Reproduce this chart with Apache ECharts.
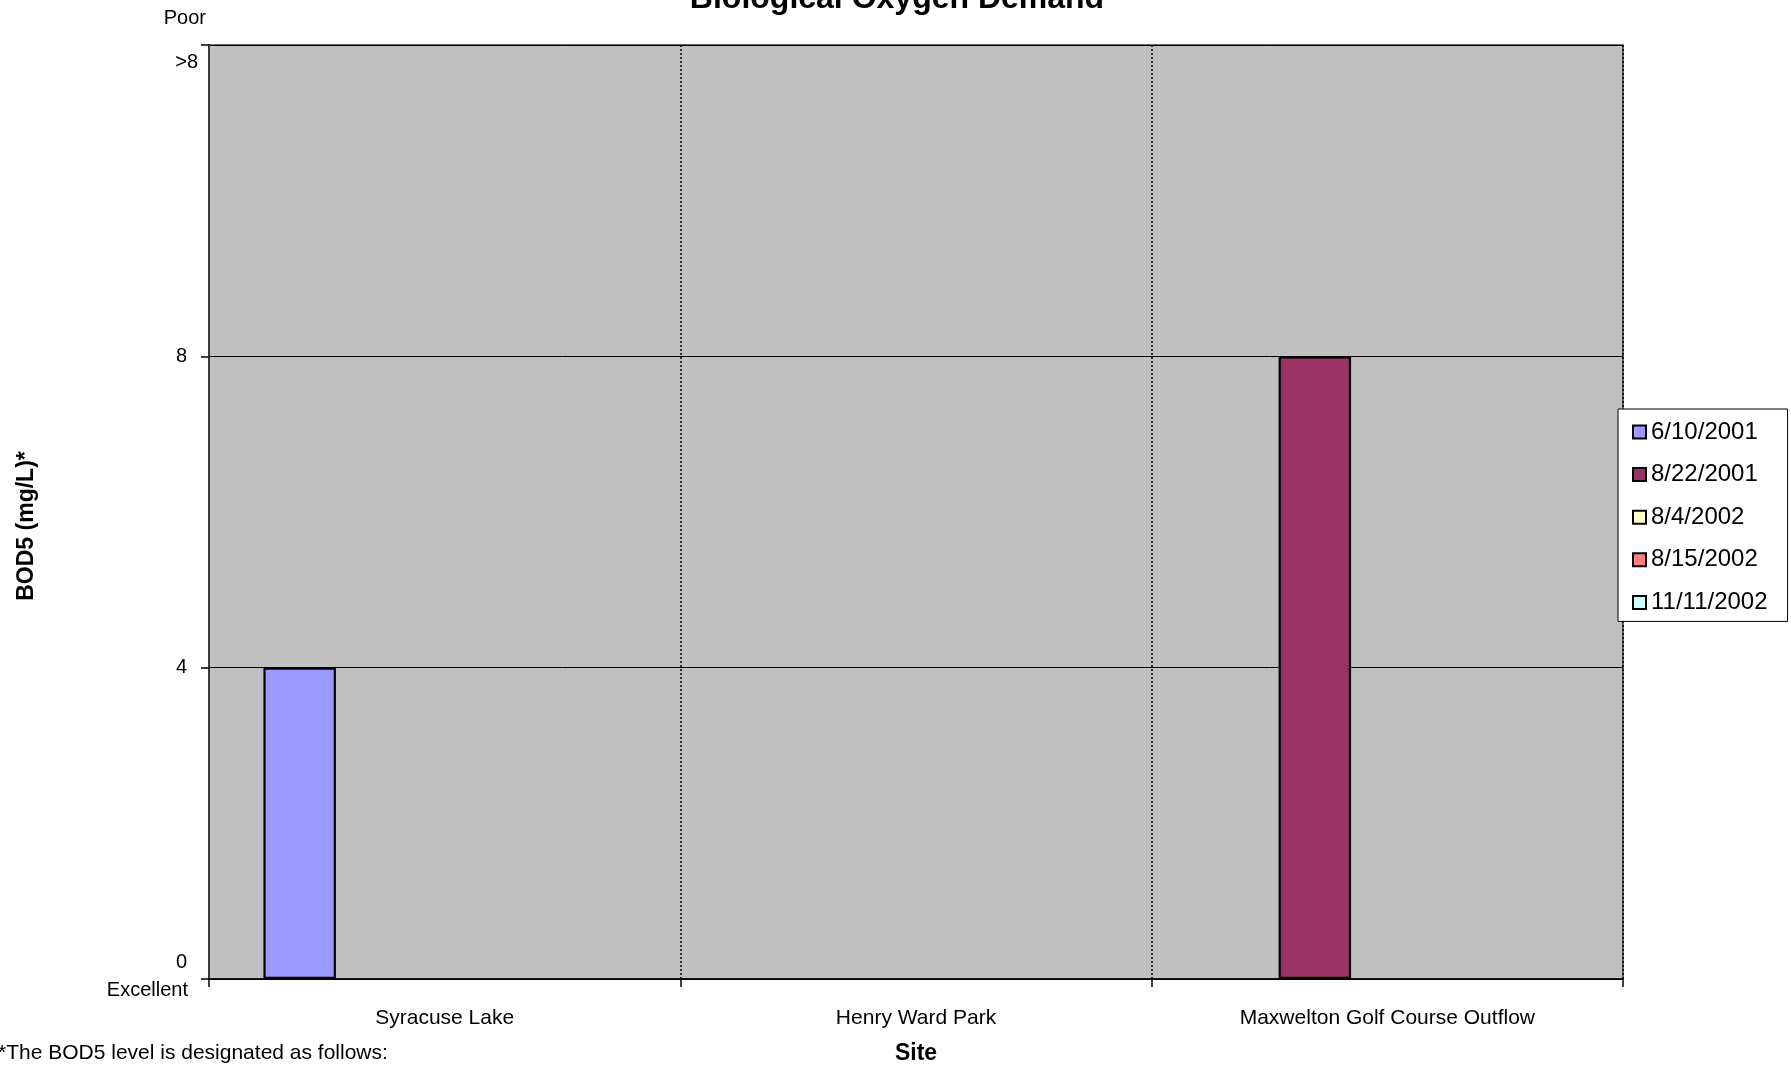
<!DOCTYPE html>
<html>
<head>
<meta charset="utf-8">
<script src="https://cdn.jsdelivr.net/npm/echarts@6/dist/echarts.min.js"></script>
<style>
html,body{margin:0;padding:0;background:#fff;}
#chart{width:1791px;height:1066px;}
</style>
</head>
<body>
<div id="chart"></div>
<script>
// ---- data ----
const categories = ['Syracuse Lake', 'Henry Ward Park', 'Maxwelton Golf Course Outflow'];
const seriesNames = ['6/10/2001', '8/22/2001', '8/4/2002', '8/15/2002', '11/11/2002'];
const values_6_10_2001 = [4, null, null];
const values_8_22_2001 = [null, null, 8];
const values_8_4_2002 = [null, null, null];
const values_8_15_2002 = [null, null, null];
const values_11_11_2002 = [null, null, null];
const yTickValues = [0, 4, 8, 12];
const yTickLabels = ['0', '4', '8', '>8'];
const yTopCaption = 'Poor';
const yBottomCaption = 'Excellent';
const titleText = 'Biological Oxygen Demand';
const yAxisTitle = 'BOD5 (mg/L)*';
const xAxisTitle = 'Site';
const footnote = '*The BOD5 level is designated as follows:';

// ---- styles ----
const seriesColors = ['#9999FF', '#993366', '#FFFFCC', '#FF8080', '#CCFFFF'];
const allValues = [values_6_10_2001, values_8_22_2001, values_8_4_2002, values_8_15_2002, values_11_11_2002];

const FONT = 'Liberation Sans, Arial, sans-serif';

const chart = echarts.init(document.getElementById('chart'), null, {renderer: 'canvas'});

const series = seriesNames.map((name, i) => ({
  name: name,
  type: 'bar',
  data: allValues[i],
  barGap: '0%',
  barCategoryGap: '23.1%',
  itemStyle: {color: seriesColors[i], borderColor: '#000', borderWidth: 2.2},
  emphasis: {disabled: true}
}));

chart.setOption({
  animation: false,
  backgroundColor: '#ffffff',
  textStyle: {fontFamily: FONT},
  title: {
    text: titleText,
    left: 892,
    textAlign: 'center',
    top: -22,
    textStyle: {fontFamily: FONT, fontSize: 32, fontWeight: 'bold', color: '#000', lineHeight: 32}
  },
  grid: {
    left: 209, top: 45, right: 168, bottom: 87,
    containLabel: false,
    outerBoundsMode: 'none',
    show: true, backgroundColor: '#C0C0C0', borderColor: '#3a3a3a', borderWidth: 1.5
  },
  legend: {
    orient: 'vertical',
    left: 1618, top: 409,
    padding: [11, 20, 7, 14],
    backgroundColor: '#ffffff',
    borderColor: '#000',
    borderWidth: 1,
    borderRadius: 0,
    itemWidth: 13, itemHeight: 13,
    itemGap: 18.6,
    icon: 'rect',
    itemStyle: {borderColor: '#000', borderWidth: 2},
    textStyle: {fontFamily: FONT, fontSize: 24, color: '#000', lineHeight: 24},
    selectedMode: false,
    data: seriesNames
  },
  xAxis: {
    type: 'category',
    data: categories,
    boundaryGap: true,
    name: xAxisTitle,
    nameLocation: 'middle',
    nameGap: 63,
    nameTextStyle: {fontFamily: FONT, fontSize: 23, fontWeight: 'bold', color: '#000'},
    axisLine: {show: true, lineStyle: {color: '#000', width: 1.5}},
    axisTick: {show: true, length: 8, alignWithLabel: false, lineStyle: {color: '#000', width: 1.5}},
    axisLabel: {fontFamily: FONT, fontSize: 21, color: '#000', margin: 29, interval: 0},
    splitLine: {show: true, lineStyle: {color: '#000', width: 1.5, type: [2, 2]}}
  },
  yAxis: {
    type: 'value',
    min: 0, max: 12, interval: 4,
    name: yAxisTitle,
    nameLocation: 'middle',
    nameRotate: 90,
    nameGap: 171,
    nameTextStyle: {fontFamily: FONT, fontSize: 23, fontWeight: 'bold', color: '#000', padding: [0, 28, 0, 0]},
    axisLine: {show: true, lineStyle: {color: '#3a3a3a', width: 2}},
    axisTick: {show: true, length: 8, lineStyle: {color: '#000', width: 1.5}},
    splitLine: {show: true, lineStyle: {color: '#000', width: 1}},
    axisLabel: {
      margin: 2,
      align: 'right',
      fontFamily: FONT,
      fontSize: 20,
      color: '#000',
      formatter: function (v) {
        const idx = yTickValues.indexOf(v);
        const lbl = idx >= 0 ? yTickLabels[idx] : String(v);
        if (v === yTickValues[0]) return '{zero|' + lbl + '}\n{exc|' + yBottomCaption + '}';
        if (v === yTickValues[yTickValues.length - 1]) return '{poor|' + yTopCaption + '}\n{gt|' + lbl + '}';
        return '{mid|' + lbl + '}';
      },
      rich: {
        mid:  {fontFamily: FONT, fontSize: 20, color: '#000', align: 'right', padding: [0, 20, 0, 0], lineHeight: 24},
        zero: {fontFamily: FONT, fontSize: 20, color: '#000', align: 'right', padding: [0, 20, 0, 0], lineHeight: 22},
        exc:  {fontFamily: FONT, fontSize: 20, color: '#000', align: 'right', padding: [0, 19, 0, 0], lineHeight: 34},
        poor: {fontFamily: FONT, fontSize: 20, color: '#000', align: 'right', padding: [0, 1, 0, 0], lineHeight: 34},
        gt:   {fontFamily: FONT, fontSize: 20, color: '#000', align: 'right', padding: [0, 9, 0, 0], lineHeight: 54}
      }
    }
  },
  graphic: [{
    type: 'text',
    left: -2,
    top: 1043,
    style: {text: footnote, fontFamily: FONT, fontSize: 21, fill: '#000'}
  }],
  series: series
});
</script>
</body>
</html>
